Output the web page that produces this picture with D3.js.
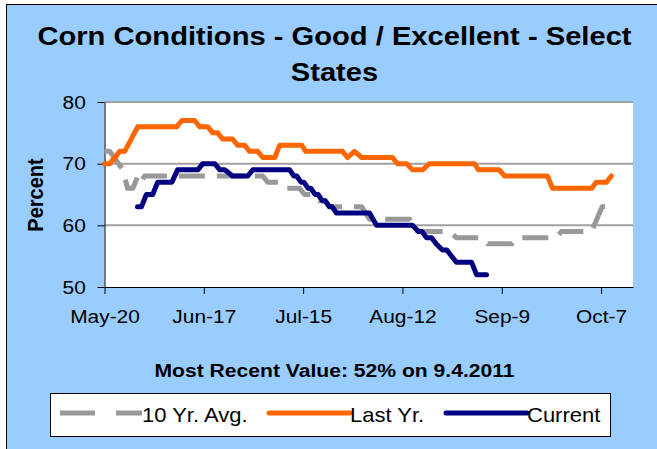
<!DOCTYPE html>
<html>
<head>
<meta charset="utf-8">
<script src="https://cdn.jsdelivr.net/npm/d3@7"></script>
<style>
  body { margin: 0; background: #fff; }
  svg { display: block; }
  text { font-family: "Liberation Sans", Arial, sans-serif; fill: #000; }
</style>
</head>
<body>
<svg id="chart" width="657" height="449"></svg>
<script>
// x values are days counted from May 20 (2011)
const startDate = new Date(2011, 4, 20);
const endDate = new Date(2011, 9, 16);
const tickDates = [new Date(2011, 4, 20), new Date(2011, 5, 17), new Date(2011, 6, 15),
                   new Date(2011, 7, 12), new Date(2011, 8, 9), new Date(2011, 9, 7)];
const yTicks = [50, 60, 70, 80];

// 10 Yr. Avg.
const avgDay = [0, 1.5, 5.2, 6.5, 8, 9.4, 10.3, 11.3, 44.6, 46, 49.4, 51.1, 55, 56.4, 59.3, 60.6, 62.3,
                63.5, 72.5, 74.7, 86, 88.3, 97.3, 99.2, 106.6, 108, 114.8, 116.2, 127.4, 128.8, 137.3, 140.3, 143.7];
const avgVal = [72, 72, 69, 66, 66, 68, 67, 68, 68, 67, 67, 66, 66, 65, 65, 64, 64,
                63, 63, 61, 61, 59, 59, 58, 58, 57, 57, 58, 58, 59, 59, 63, 63];

// Last Yr.
const lastDay = [0, 1.5, 4.3, 5.7, 9.4, 20.4, 21.8, 25.4, 26.8, 29.1, 30.5, 31.9, 33.3, 36.1, 37.5,
                 39.5, 40.9, 43.2, 44.6, 48, 49.4, 55.6, 56.7, 67.1, 68.5, 70.5, 72.5, 81.2, 82.6, 85.2,
                 86.8, 89.7, 91.6, 104.3, 105.4, 111.3, 112.8, 124.9, 126.3, 137.3, 138.7, 141.5, 142.9];
const lastVal = [70, 70, 72, 72, 76, 76, 77, 77, 76, 76, 75, 75, 74, 74, 73,
                 73, 72, 72, 71, 71, 73, 73, 72, 72, 71, 72, 71, 71, 70, 70,
                 69, 69, 70, 70, 69, 69, 68, 68, 66, 66, 67, 67, 68];

// Current
const curDay = [9.3, 10.4, 11.8, 13.6, 15, 19, 20.6, 26.3, 27.7, 31.1, 32.5, 33.9, 36.1, 40.4, 41.8,
                52.2, 53.4, 54.2, 55.4, 56.2, 57.4, 58.2, 59.4, 60.2, 61.4, 62.2, 63.4, 64.2, 65.4, 74.7,
                76.7, 86.8, 88.5, 89.5, 90.8, 92.2, 93.5, 95.3, 96.5, 99.2, 103.5, 104.9, 107.7];
const curVal = [63, 63, 65, 65, 67, 67, 69, 69, 70, 70, 69, 69, 68, 68, 69,
                69, 68, 68, 67, 67, 66, 66, 65, 65, 64, 64, 63, 63, 62, 62,
                60, 60, 59, 59, 58, 58, 57, 56, 56, 54, 54, 52, 52];

const seriesNames = ["10 Yr. Avg.", "Last Yr.", "Current"];
const seriesColors = ["#999999", "#FF6600", "#000080"];

const SX = 1.1; // the picture is stretched a little sideways

const svg = d3.select("#chart");

// frame
svg.append("rect")
    .attr("x", 6.5).attr("y", 4.5)
    .attr("width", 700).attr("height", 500)
    .attr("fill", "#99CCFF").attr("stroke", "#000");

function label(txt, px, py, size, weight, anchor) {
    return svg.append("g")
        .attr("transform", `translate(${px},${py})`)
        .append("text")
        .attr("transform", `scale(${SX},1)`)
        .attr("text-anchor", anchor || "middle")
        .style("font-size", size + "px")
        .style("font-weight", weight || "normal")
        .text(txt);
}

//TITLE
label("Corn Conditions - Good / Excellent - Select", 334.5, 45, 26.5, "bold");
label("States", 334.5, 81, 26.5, "bold");

const plot = {left: 104.5, top: 102, right: 633, bottom: 287};

const x = d3.scaleTime().domain([startDate, endDate]).range([plot.left, plot.right]);
const y = d3.scaleLinear().domain([50, 80]).range([plot.bottom, plot.top]);

svg.append("rect")
    .attr("x", plot.left).attr("y", plot.top)
    .attr("width", plot.right - plot.left).attr("height", plot.bottom - plot.top)
    .attr("fill", "#fff");

// gridlines
svg.selectAll("line.grid")
    .data(yTicks.filter(d => d > 50))
    .enter().append("line")
    .attr("class", "grid")
    .attr("x1", plot.left).attr("x2", plot.right)
    .attr("y1", d => y(d)).attr("y2", d => y(d))
    .attr("stroke", "#A0A0A0").attr("stroke-width", 2);

// axes
const yAxis = svg.append("g")
    .attr("transform", `translate(${plot.left},0)`)
    .call(d3.axisLeft(y).tickValues(yTicks).tickSizeInner(7).tickSizeOuter(0).tickPadding(10));
const xAxis = svg.append("g")
    .attr("transform", `translate(0,${plot.bottom})`)
    .call(d3.axisBottom(x).tickValues(tickDates).tickFormat(d3.timeFormat("%b-%-d"))
        .tickSizeInner(7).tickSizeOuter(0).tickPadding(16));

[yAxis, xAxis].forEach(a => {
    a.attr("font-size", null).attr("font-family", null);
    a.selectAll("path, line").attr("stroke", "#000");
    a.selectAll("text").style("font-size", "19px").attr("transform", `scale(${SX},1)`);
});

svg.append("g")
    .attr("transform", `translate(43,195) scale(${SX},1) rotate(-90)`)
    .append("text")
    .attr("text-anchor", "middle")
    .style("font-size", "20px")
    .style("font-weight", "bold")
    .text("Percent");

// lines
const toDate = d => new Date(startDate.getTime() + d * 864e5);
const line = d3.line().x(d => x(d.date)).y(d => y(d.v));

const series = [
    {days: avgDay, vals: avgVal, dash: "26,12", cap: "butt"},
    {days: lastDay, vals: lastVal, dash: null, cap: "round"},
    {days: curDay, vals: curVal, dash: null, cap: "round"}
];

series.forEach((s, i) => {
    const pts = s.days.map((d, j) => ({date: toDate(d), v: s.vals[j]}));
    svg.append("path")
        .datum(pts)
        .attr("d", line)
        .attr("fill", "none")
        .attr("stroke", seriesColors[i])
        .attr("stroke-width", 5)
        .attr("stroke-linejoin", "round")
        .attr("stroke-linecap", s.cap)
        .attr("stroke-dasharray", s.dash);
});

label("Most Recent Value: 52% on 9.4.2011", 334.5, 377, 19.2, "bold");

// LEGEND
svg.append("rect")
    .attr("x", 50.5).attr("y", 393.5)
    .attr("width", 560).attr("height", 43)
    .attr("fill", "#fff").attr("stroke", "#000");

const legendX = [60, 269, 446];
const legendW = [82, 81, 81];
seriesNames.forEach((name, i) => {
    svg.append("line")
        .attr("x1", legendX[i]).attr("x2", legendX[i] + legendW[i])
        .attr("y1", 413).attr("y2", 413)
        .attr("stroke", seriesColors[i])
        .attr("stroke-width", 5)
        .attr("stroke-linecap", i === 0 ? "butt" : "round")
        .attr("stroke-dasharray", i === 0 ? "35,21" : null);
    label(name, legendX[i] + legendW[i], 422, 20, "normal", "start");
});
</script>
</body>
</html>
